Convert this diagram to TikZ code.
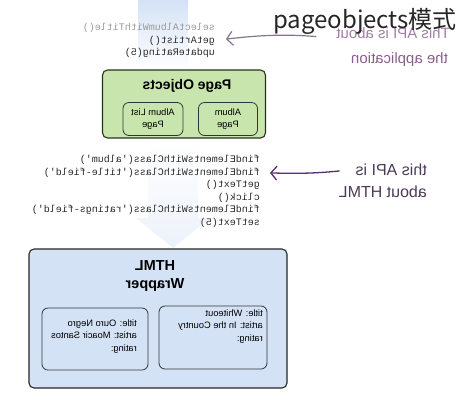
\documentclass[tikz,border=0pt]{standalone}
\usepackage{fontspec}
\setmainfont{Liberation Sans}
\setmonofont{Liberation Mono}
\newfontfamily\cjkfont{Noto Sans CJK SC}
\usetikzlibrary{arrows.meta}
\definecolor{pogreen}{HTML}{C9E5AE}
\definecolor{poedge}{HTML}{27331E}
\definecolor{hwblue}{HTML}{D4E2F6}
\definecolor{fadeblue}{HTML}{DCE7F6}
\definecolor{codegray}{HTML}{9A9A9A}
\definecolor{codeink}{HTML}{2A2A2A}
\definecolor{appnote}{HTML}{8A5E8E}
\definecolor{htmlnote}{HTML}{4B3A58}
\definecolor{apparrow}{HTML}{86748F}
\definecolor{htmlarrow}{HTML}{5A2D6E}
\newcommand{\lines}[2]{\begin{tabular}[t]{@{}#1@{}}#2\end{tabular}}

\begin{document}
\begin{tikzpicture}[x=1pt,y=-1pt,
  mirror/.style={xscale=-1,transform shape},
  bigbox/.style={draw=poedge,line width=1.1pt,rounded corners=5pt},
  smallbox/.style={draw=black!80,line width=0.8pt,rounded corners=6pt},
  title/.style={mirror,font=\fontsize{14}{18}\selectfont\bfseries,inner sep=0pt,anchor=base},
  code/.style={mirror,anchor=west,font=\fontsize{10}{12.5}\ttfamily,inner sep=0pt,text height=7pt,text depth=2pt},
  entry/.style={mirror,anchor=base west,font=\fontsize{9.3}{12.4}\selectfont,inner sep=0pt},
  note/.style={mirror,anchor=base west,inner sep=0pt}]

\useasboundingbox (0,0) rectangle (470,400);

\shade[top color=hwblue,bottom color=white] (138,0) rectangle (188,70);
\shade[top color=white,bottom color=fadeblue!55] (148,142) -- (198,142) -- (198,218) -- (210,218)
  -- (173,248) -- (136,218) -- (148,218) -- cycle;

\foreach \txt/\col [count=\i] in {selectAlbumWithTitle()/codegray,getArtist()/codeink,updateRating(5)/codeink}
  \node[code,text=\col] (top\i) at (215,{15.5+12.5*\i}) {\txt};

\node[note,text=appnote!80,font=\fontsize{15}{18}\selectfont] (app1) at (450,38) {This API is about};
\node[note,text=appnote,font=\fontsize{15}{18}\selectfont] (app2) at (448,63.5) {the application};
\draw[apparrow,line width=1.2pt,-{Straight Barb[length=6pt,width=14pt]},shorten <=20pt,shorten >=11pt]
  (app1.south east) to[bend right=6] (top2.west);

\node[bigbox,fill=pogreen,minimum width=163pt,minimum height=68pt] (pageobj) at (184,104) {};
\node[title] (potitle) at (187,89) {Page Objects};
\node[smallbox,mirror,fill=pogreen,minimum width=60pt,minimum height=33pt,align=center,font=\fontsize{9.3}{11.5}\selectfont]
  (albumlist) at (153,119) {Album List\\Page};
\node[smallbox,mirror,fill=pogreen,minimum width=59pt,minimum height=33pt,align=center,font=\fontsize{9.3}{11.5}\selectfont]
  (album) at (228,119) {Album\\Page};

\foreach \txt [count=\i] in {findElementsWithClass('album'),findElementsWithClass('title-field'),getText(),click(),findElementsWithClass('ratings-field'),setText(5)}
  \node[code,text=codeink] (mid\i) at (260,{147.5+12.5*\i}) {\txt};

\node[note,text=htmlnote,font=\fontsize{16}{22}\selectfont] (html1) at (427,175) {this API is};
\node[note,text=htmlnote,font=\fontsize{16}{22}\selectfont] (html2) at (427,197) {about HTML};
\draw[htmlarrow,line width=1.3pt,-{Straight Barb[length=6pt,width=14pt]},shorten <=16pt,shorten >=10pt]
  (html1.east) to[bend left=4] (mid2.west);

\node[bigbox,draw=black!85,fill=hwblue,minimum width=258pt,minimum height=139pt] (wrapper) at (158,318.5) {};
\node[title,font=\fontsize{14.5}{18}\selectfont\bfseries] (htmltitle) at (155,270) {HTML};
\node[title,font=\fontsize{14.5}{18}\selectfont\bfseries] (wraptitle) at (155,288) {Wrapper};

\node[smallbox,fill=hwblue,minimum width=106pt,minimum height=62pt] (ouro) at (95,339) {};
\node[entry] (ourotext) at (137,326.5) {\lines{l}{title: Ouro Negro\\artist: Moacir Santos\\rating:}};
\node[smallbox,fill=hwblue,minimum width=108pt,minimum height=63pt] (whiteout) at (213,337.5) {};
\node[entry] (whiteouttext) at (263,316.5) {\lines{l}{title: Whiteout\\artist: In the Country\\rating:}};

\node[anchor=base west,inner sep=0pt,font=\cjkfont\fontsize{24}{24}\selectfont,text=black!85] (mark) at (273,28) {pageobjects模式};
\end{tikzpicture}
\end{document}
